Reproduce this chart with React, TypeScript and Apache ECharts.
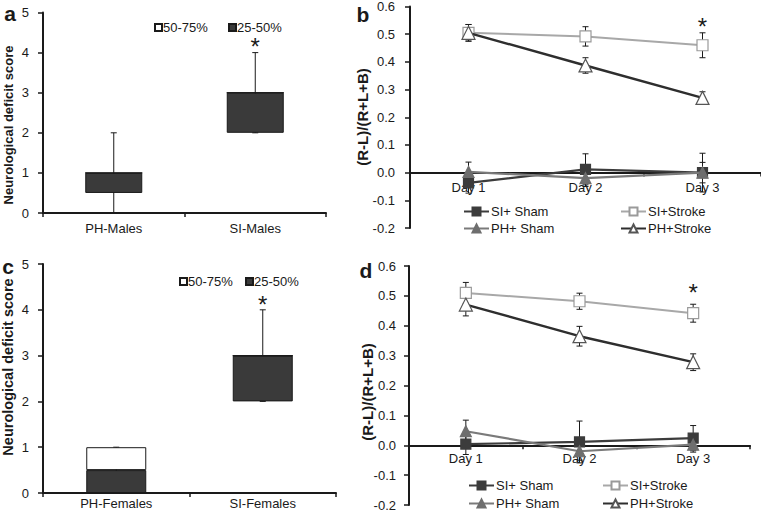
import React, { useEffect, useRef } from 'react';
import * as echarts from 'echarts';

// ---- Panels a / c : neurological deficit score (box plots) ----
const maleCats = ['PH-Males', 'SI-Males'];
const femaleCats = ['PH-Females', 'SI-Females'];
const maleQ1 = [0.5, 2];
const maleMedian = [1, 3];
const maleQ3 = [1, 3];
const maleMin = [0, 2];
const maleMax = [2, 4];
const femaleQ1 = [0, 2];
const femaleMedian = [0.5, 3];
const femaleQ3 = [1, 3];
const femaleMin = [0, 2];
const femaleMax = [1, 4];
const maleStar = [[1, 4.15]];
const femaleStar = [[1, 4.12]];

// ---- Panels b / d : (R-L)/(R+L+B) ----
const days = ['Day 1', 'Day 2', 'Day 3'];
const groupNames = ['SI+ Sham', 'SI+Stroke', 'PH+ Sham', 'PH+Stroke'];
// males (b)
const bSIShamMean = [-0.037, 0.012, 0.0];
const bSIShamErr = [0.037, 0.056, 0.07];
const bSIStrokeMean = [0.505, 0.492, 0.46];
const bSIStrokeErr = [0.03, 0.035, 0.045];
const bPHShamMean = [0.003, -0.02, 0.0];
const bPHShamErr = [0.035, 0.03, 0.037];
const bPHStrokeMean = [0.505, 0.387, 0.27];
const bPHStrokeErr = [0.03, 0.028, 0.022];
const bStar = [[2, 0.528]];
// females (d)
const dSIShamMean = [0.004, 0.011, 0.024];
const dSIShamErr = [0.035, 0.07, 0.042];
const dSIStrokeMean = [0.51, 0.482, 0.442];
const dSIStrokeErr = [0.035, 0.027, 0.03];
const dPHShamMean = [0.047, -0.02, 0.002];
const dPHShamErr = [0.037, 0.03, 0.025];
const dPHStrokeMean = [0.471, 0.365, 0.278];
const dPHStrokeErr = [0.038, 0.033, 0.028];
const dStar = [[2, 0.512]];

const FONT = '"Liberation Sans", Arial, Helvetica, sans-serif';
const INK = '#1a1a1a';
const DARK = '#3a3a3a';

const lineStyles = [
  { color: '#3c3c3c', symbol: 'rect', size: 10, fill: '#3c3c3c', border: '#3c3c3c', width: 2.2 },
  { color: '#a8a8a8', symbol: 'rect', size: 11, fill: '#ffffff', border: '#9a9a9a', width: 2 },
  { color: '#7a7a7a', symbol: 'triangle', size: 11, fill: '#6e6e6e', border: '#6e6e6e', width: 2.2 },
  { color: '#2e2e2e', symbol: 'triangle', size: 13, fill: '#ffffff', border: '#555555', width: 2.4 },
];

const grids = [
  { left: 43, top: 12.5, width: 283, height: 200.5 },
  { left: 410, top: 6, width: 355, height: 222 },
  { left: 43, top: 264, width: 293, height: 229 },
  { left: 409, top: 266, width: 341, height: 239 },
];
const scoreRange = [0, 5, 1];
const ratioRange = [-0.2, 0.6, 0.1];

function whiskerItem(params: any, api: any) {
  const x = api.value(0);
  const lo = api.coord([x, api.value(1)]);
  const hi = api.coord([x, api.value(2)]);
  const cap = 3;
  const st = { stroke: INK, lineWidth: 1 };
  return {
    type: 'group',
    children: [
      { type: 'line', shape: { x1: lo[0], y1: lo[1], x2: hi[0], y2: hi[1] }, style: st },
      { type: 'line', shape: { x1: hi[0] - cap, y1: hi[1], x2: hi[0] + cap, y2: hi[1] }, style: st },
      { type: 'line', shape: { x1: lo[0] - cap, y1: lo[1], x2: lo[0] + cap, y2: lo[1] }, style: st },
    ],
  };
}

function starItem(size: number) {
  return (params: any, api: any) => {
    const p = api.coord([api.value(0), api.value(1)]);
    return {
      type: 'text',
      x: p[0],
      y: p[1],
      style: {
        text: '*',
        font: `${size}px ${FONT}`,
        fill: INK,
        align: 'center',
        verticalAlign: 'middle',
      },
    };
  };
}

function boxSeries(idx: number, q1: number[], med: number[], q3: number[], mn: number[], mx: number[], bw: number, star: number[][], starSize: number) {
  const stack = 'box' + idx;
  return [
    {
      type: 'custom',
      xAxisIndex: idx,
      yAxisIndex: idx,
      z: 1,
      silent: true,
      renderItem: whiskerItem,
      encode: { x: 0, y: [1, 2] },
      data: mn.map((v, i) => [i, v, mx[i]]),
    },
    {
      type: 'bar',
      name: 'base' + idx,
      xAxisIndex: idx,
      yAxisIndex: idx,
      stack,
      barWidth: bw,
      z: 2,
      silent: true,
      itemStyle: { color: 'transparent', borderWidth: 0 },
      data: q1,
    },
    {
      type: 'bar',
      name: '25-50%',
      xAxisIndex: idx,
      yAxisIndex: idx,
      stack,
      barWidth: bw,
      z: 2,
      itemStyle: { color: DARK, borderColor: INK, borderWidth: 1 },
      data: med.map((m, i) => m - q1[i]),
    },
    {
      type: 'bar',
      name: '50-75%',
      xAxisIndex: idx,
      yAxisIndex: idx,
      stack,
      barWidth: bw,
      z: 2,
      itemStyle: { color: '#ffffff', borderColor: INK, borderWidth: 1 },
      data: q3.map((q, i) => q - med[i]),
    },
    {
      type: 'custom',
      xAxisIndex: idx,
      yAxisIndex: idx,
      z: 5,
      silent: true,
      renderItem: starItem(starSize),
      encode: { x: 0, y: 1 },
      data: star,
    },
  ];
}

function lineSeries(idx: number, means: number[][], errs: number[][], star: number[][]) {
  const out: any[] = [];
  means.forEach((m, k) => {
    out.push({
      type: 'custom',
      xAxisIndex: idx,
      yAxisIndex: idx,
      z: 1,
      silent: true,
      renderItem: whiskerItem,
      encode: { x: 0, y: [1, 2] },
      data: m.map((v, i) => [i, v - errs[k][i], v + errs[k][i]]),
    });
  });
  means.forEach((m, k) => {
    const s = lineStyles[k];
    out.push({
      type: 'line',
      name: groupNames[k],
      xAxisIndex: idx,
      yAxisIndex: idx,
      z: 2 + k,
      symbol: s.symbol,
      symbolSize: s.size,
      showAllSymbol: true,
      lineStyle: { color: s.color, width: s.width },
      itemStyle: { color: s.fill, borderColor: s.border, borderWidth: 1.2 },
      data: m,
    });
  });
  out.push({
    type: 'custom',
    xAxisIndex: idx,
    yAxisIndex: idx,
    z: 10,
    silent: true,
    renderItem: starItem(24),
    encode: { x: 0, y: 1 },
    data: star,
  });
  return out;
}

const axisLineStyle = { show: true, lineStyle: { color: INK, width: 2 } };
const labelStyle = { color: INK, fontSize: 13, fontFamily: FONT };

function catAxis(idx: number, data: string[], margin: number, range: number[]) {
  // place the category axis where the value axis is zero
  const zeroOffset = -grids[idx].height * ((0 - range[0]) / (range[1] - range[0]));
  return {
    type: 'category',
    gridIndex: idx,
    data,
    boundaryGap: true,
    position: 'bottom',
    offset: zeroOffset,
    axisLine: { ...axisLineStyle, onZero: false },
    axisTick: { show: true, inside: false, length: 4, lineStyle: { color: INK, width: 1.5 } },
    axisLabel: { ...labelStyle, margin, interval: 0 },
    splitLine: { show: false },
  };
}

function valAxis(idx: number, range: number[], margin: number, decimals: number) {
  return {
    type: 'value',
    gridIndex: idx,
    min: range[0],
    max: range[1],
    interval: range[2],
    axisLine: axisLineStyle,
    axisTick: { show: true, inside: false, length: 5, lineStyle: { color: INK, width: 1.5 } },
    axisLabel: { ...labelStyle, margin, formatter: (v: number) => v.toFixed(decimals) },
    splitLine: { show: false },
  };
}

function lineLegend(name: string, left: number, top: number) {
  return {
    data: [name],
    left,
    top,
    padding: 0,
    itemWidth: 25,
    itemHeight: 10,
    selectedMode: false,
    textStyle: { color: INK, fontSize: 13, fontFamily: FONT, padding: [0, 0, 0, -3] },
  };
}

function boxLegend(name: string, left: number, top: number) {
  return {
    data: [{ name, icon: 'rect' }],
    left,
    top,
    padding: 0,
    itemWidth: 7,
    itemHeight: 7,
    selectedMode: false,
    textStyle: { color: INK, fontSize: 13, fontFamily: FONT, padding: [0, 0, 0, -4] },
  };
}

function rotText(text: string, x: number, y: number, size: number) {
  return {
    type: 'text',
    x,
    y,
    rotation: Math.PI / 2,
    style: {
      text,
      font: `bold ${size}px ${FONT}`,
      fill: INK,
      align: 'center',
      verticalAlign: 'middle',
    },
  };
}

function panelLetter(text: string, x: number, y: number) {
  return {
    type: 'text',
    x,
    y,
    style: { text, font: `bold 21px ${FONT}`, fill: INK, align: 'center', verticalAlign: 'middle' },
  };
}

export default function App() {
  const ref = useRef<HTMLDivElement>(null);
  useEffect(() => {
    if (!ref.current) return;
    const chart = echarts.init(ref.current, undefined, { renderer: 'svg' });
    const option: any = {
      animation: false,
      backgroundColor: '#ffffff',
      textStyle: { fontFamily: FONT },
      grid: grids,
      xAxis: [
        catAxis(0, maleCats, 9, scoreRange),
        catAxis(1, days, 8, ratioRange),
        catAxis(2, femaleCats, 4, scoreRange),
        catAxis(3, days, 7, ratioRange),
      ],
      yAxis: [
        valAxis(0, scoreRange, 14, 0),
        valAxis(1, ratioRange, 15, 1),
        valAxis(2, scoreRange, 14, 0),
        valAxis(3, ratioRange, 13, 1),
      ],
      legend: [
        boxLegend('50-75%', 154, 21),
        boxLegend('25-50%', 228, 21),
        boxLegend('50-75%', 179, 275),
        boxLegend('25-50%', 245, 275),
        lineLegend('SI+ Sham', 463, 205),
        lineLegend('SI+Stroke', 620, 205),
        lineLegend('PH+ Sham', 463, 222),
        lineLegend('PH+Stroke', 620, 222),
        lineLegend('SI+ Sham', 468, 479),
        lineLegend('SI+Stroke', 602, 479),
        lineLegend('PH+ Sham', 468, 497),
        lineLegend('PH+Stroke', 602, 497),
      ],
      graphic: [
        panelLetter('a', 10, 13),
        panelLetter('b', 363, 14),
        panelLetter('c', 8, 266),
        panelLetter('d', 366, 270),
        rotText('Neurological deficit score', 8, 125, 13),
        rotText('(R-L)/(R+L+B)', 362, 117, 15),
        rotText('Neurological deficit score', 8, 367, 14.5),
        rotText('(R-L)/(R+L+B)', 367, 392, 15),
      ],
      series: [
        ...boxSeries(0, maleQ1, maleMedian, maleQ3, maleMin, maleMax, 57, maleStar, 24),
        ...lineSeries(
          1,
          [bSIShamMean, bSIStrokeMean, bPHShamMean, bPHStrokeMean],
          [bSIShamErr, bSIStrokeErr, bPHShamErr, bPHStrokeErr],
          bStar
        ),
        ...boxSeries(2, femaleQ1, femaleMedian, femaleQ3, femaleMin, femaleMax, 60, femaleStar, 24),
        ...lineSeries(
          3,
          [dSIShamMean, dSIStrokeMean, dPHShamMean, dPHStrokeMean],
          [dSIShamErr, dSIStrokeErr, dPHShamErr, dPHStrokeErr],
          dStar
        ),
      ],
    };
    chart.setOption(option);
    return () => chart.dispose();
  }, []);
  return (
    <div
      ref={ref}
      style={{ position: 'absolute', left: 0, top: 0, width: 761, height: 513, background: '#fff' }}
    />
  );
}
